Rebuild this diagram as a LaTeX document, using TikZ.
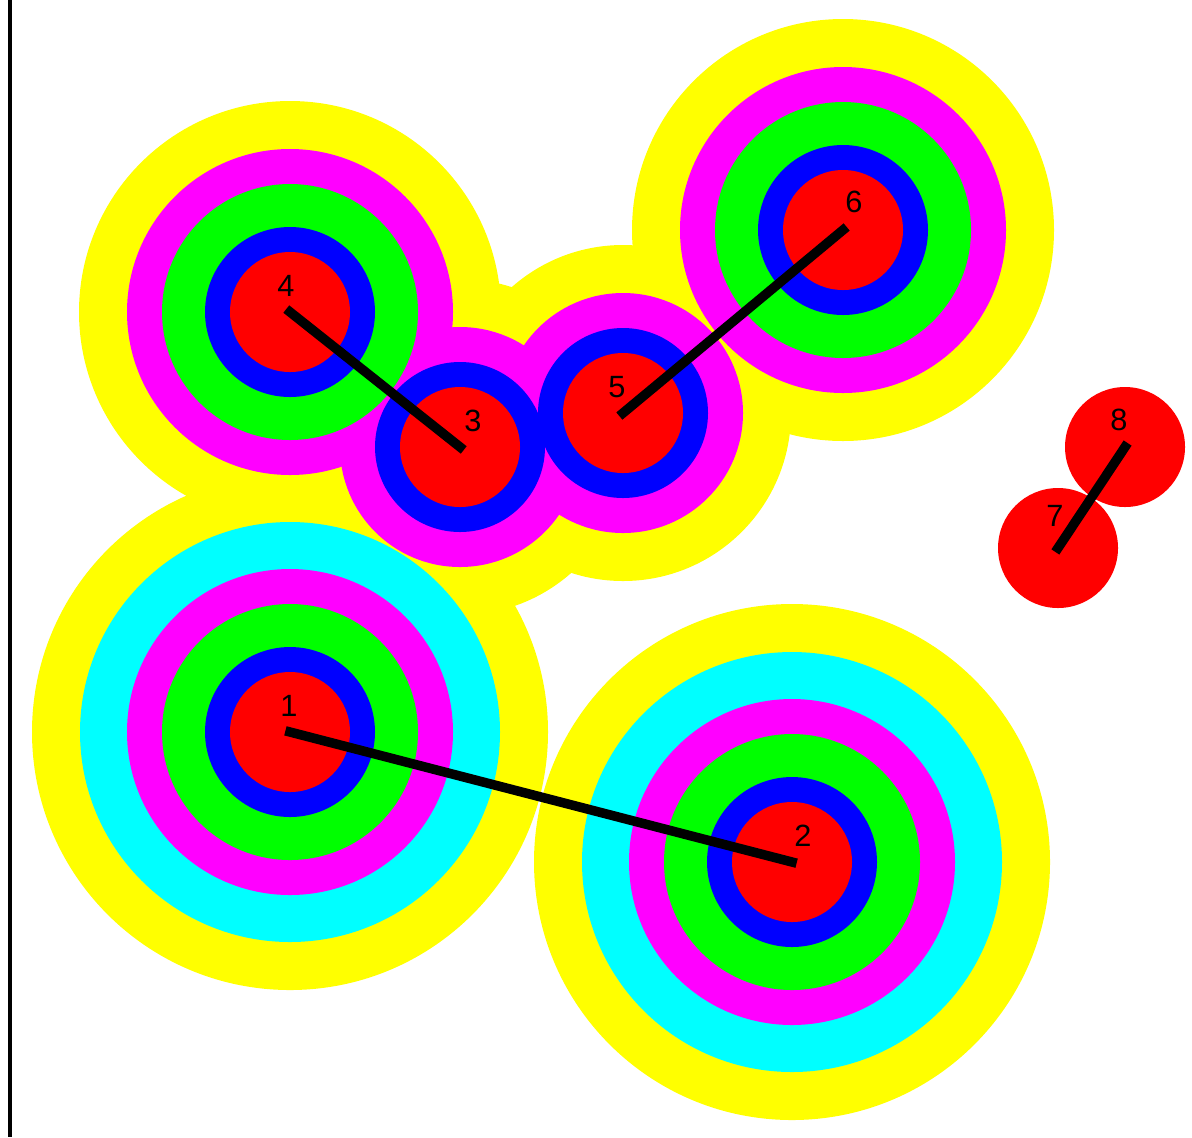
\documentclass[tikz,border=0pt]{standalone}
\usepackage{fontspec}
\setsansfont{Liberation Sans}
\usetikzlibrary{calc}

\definecolor{moatyellow}{RGB}{255,255,0}
\definecolor{moatcyan}{RGB}{0,255,255}
\definecolor{moatmagenta}{RGB}{255,0,255}
\definecolor{moatgreen}{RGB}{0,255,0}
\definecolor{moatblue}{RGB}{0,0,255}
\definecolor{moatred}{RGB}{255,0,0}

\begin{document}
\begin{tikzpicture}[x=0.02cm, y=-0.02cm, font=\sffamily\fontsize{17.5}{20}\selectfont]
    \useasboundingbox (0,0) rectangle (1192,1137);

    % Terminals
    \foreach \name/\x/\y in {1/290/732, 2/792/862, 3/460/447, 4/290/312,
                             5/623/413, 6/843/230, 7/1058/548, 8/1125/447} {
        \coordinate (p\name) at (\x,\y);
    }

    % Moats, outermost first
    \foreach \p/\r in {1/258, 2/258, 3/168, 4/211, 5/168, 6/211} {
        \fill[moatyellow] (p\p) circle (\r);
    }
    \foreach \p in {1, 2} {
        \fill[moatcyan] (p\p) circle (210);
    }
    \foreach \p/\r in {1/163, 2/163, 3/120, 4/163, 5/120, 6/163} {
        \fill[moatmagenta] (p\p) circle (\r);
    }
    \foreach \p in {1, 2, 4, 6} {
        \fill[moatgreen] (p\p) circle (128);
    }
    \foreach \p in {1, 2, 3, 4, 5, 6} {
        \fill[moatblue] (p\p) circle (85);
    }
    \foreach \p in {1, 2, 3, 4, 5, 6, 7, 8} {
        \fill[moatred] (p\p) circle (60);
    }

    % Left border
    \coordinate (top) at (10,0);
    \coordinate (bottom) at (10,1137);
    \draw[line width=0.07cm] (top) -- (bottom);

    % Tree edges
    \foreach \a/\b in {1/2, 4/3, 5/6, 8/7} {
        \draw[line width=0.19cm, line cap=rect] (p\a) -- (p\b);
    }

    % Labels
    \foreach \p/\dx/\dy in {1/-10/-16, 2/2/-16, 3/4/-16, 4/-13/-16,
                            5/-15/-16, 6/2/-18, 7/-12/-22, 8/-15/-17} {
        \node[anchor=base west, inner sep=0pt] (l\p) at ($(p\p)+(\dx,\dy)$) {\p};
    }
\end{tikzpicture}
\end{document}
